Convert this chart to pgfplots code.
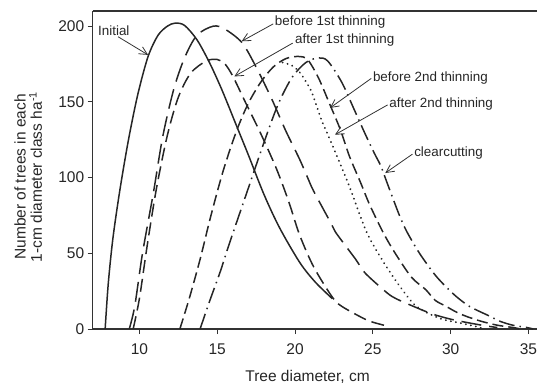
\documentclass[border=0pt]{standalone}
\usepackage{fontspec}
\setmainfont{Liberation Sans}
\usepackage{pgfplots}
\pgfplotsset{compat=1.18}
\usetikzlibrary{arrows.meta}
\begin{document}
\begin{tikzpicture}
\path[use as bounding box] (0,0) rectangle (537pt,384pt);
\begin{axis}[
  at={(92.7pt,55pt)}, anchor=south west,
  width=444.3pt, height=318pt, scale only axis,
  xmin=7, xmax=35.55, ymin=0, ymax=210,
  axis x line=box, axis y line=left,
  axis line style={-, line width=1.2pt, black!80},
  xtick pos=bottom, ytick pos=left,
  xtick={10,15,20,25,30,35}, ytick={0,50,100,150,200},
  tick align=outside, major tick length=5pt,
  tick style={line width=1pt, black!80},
  /pgf/number format/assume math mode=true,
  ticklabel style={font=\fontsize{15.5}{18}\selectfont, text=black!85},
  xticklabel style={yshift=-6pt},
  xlabel={Tree diameter, cm},
  xlabel style={at={(0.4835,0)}, anchor=north, yshift=-38pt, font=\fontsize{15.5}{18}\selectfont, text=black!85},
  ylabel={\begin{tabular}{c}Number of trees in each\\[-2pt]1-cm diameter class ha\textsuperscript{-1}\end{tabular}},
  ylabel style={at={(0,0.478)}, anchor=south, yshift=42pt, font=\fontsize{15.5}{18}\selectfont, text=black!85},
  clip=false,
  every axis plot/.append style={line width=1.5pt, black!85, smooth, tension=0.5, no markers},
]
% Initial
\addplot[solid] coordinates {(7.8,0) (8.0,30) (8.3,60) (8.75,92) (9.3,125) (9.9,155) (10.56,180) (11.2,194) (11.8,200) (12.3,202) (12.9,200.5) (13.7,191) (14.5,176) (15.3,158) (16.25,134) (17,115) (18,89) (19,67) (20.3,44) (21.3,31) (22.4,20)};
% before 1st thinning
\addplot[dash pattern=on 20pt off 8pt] coordinates {(9.35,0) (9.7,15) (10.2,50) (10.9,90) (11.5,127) (12.2,158) (12.9,179) (13.7,194) (14.75,200) (15.5,198) (16.6,189) (17.5,173) (18.5,152) (19.4,131) (20.3,112) (20.85,99) (21.2,91) (22.25,71) (22.6,64) (23.9,46) (24.5,37) (25.9,24) (26.5,20) (27.6,15) (28.8,10) (30,6.5) (31.2,4) (32.3,2) (33,1)};
% after 1st thinning
\addplot[dash pattern=on 13pt off 6pt] coordinates {(9.6,0) (10,20) (10.5,55) (11.1,93) (11.8,128) (12.5,153) (13.3,169) (14.3,177) (15.0,178) (15.5,175) (16.0,167) (16.8,150) (17.8,129) (18.8,106) (19.6,84) (20.3,62) (21.2,41) (22.4,21) (23,15) (24.4,7) (25,4.5) (25.9,2)};
% before 2nd thinning
\addplot[dash pattern=on 11pt off 5pt] coordinates {(12.6,0) (13.2,20) (13.9,46) (14.6,75) (15.4,105) (16.25,131) (17,149) (17.8,163) (18.6,173) (19.4,178.5) (20.2,180) (20.8,178) (21.5,166) (22.25,148) (22.9,132) (23.5,114) (24.2,97) (24.8,82) (25.7,63) (26.5,49) (27.5,34) (28.4,26) (29,19) (29.7,15) (30.4,11) (31.1,8) (32,5) (33,2.5) (34,1) (34.5,0)};
% after 2nd thinning
\addplot[line cap=round, dash pattern=on 0.1pt off 5pt, line width=2pt] coordinates {(19.2,176) (19.8,174) (20.34,169) (21.0,158) (21.4,147) (21.7,138) (22.25,125) (22.7,114) (23.5,94) (24.6,64) (25.7,44) (26.75,28) (27.8,15) (29.3,7) (30.6,4) (31.7,1.5) (32.2,0)};
% clearcutting
\addplot[dash pattern=on 16pt off 5pt on 1.5pt off 5pt] coordinates {(13.9,0) (14.5,18) (15.2,38) (15.8,57) (16.9,90) (18,123) (18.9,148) (19.8,166) (20.7,176) (21.5,179) (22.1,177) (23,163) (23.8,145) (24.5,129) (25.1,116) (25.5,108) (25.9,97) (26.3,86) (26.75,74) (27.2,64) (28,50) (28.9,37) (29.5,30) (30.3,22) (31.2,15) (32.4,9) (33.2,5) (34,2.5) (34.9,1) (35.3,0)};

\tikzset{lab/.style={anchor=west, inner sep=0pt, font=\fontsize{13.4}{15}\selectfont, text=black!85},
         arr/.style={-{Straight Barb[length=8pt,width=8pt]}, line width=0.8pt, black!80}}
\node[lab] at (axis cs:7.34,197) {Initial};
\draw[arr] (axis cs:8.63,193) -- (axis cs:10.56,181);
\node[lab] at (axis cs:18.7,202.6) {before 1st thinning};
\draw[arr] (axis cs:18.6,201.5) -- (axis cs:16.57,190);
\node[lab] at (axis cs:20.0,190.7) {after 1st thinning};
\draw[arr] (axis cs:19.85,188.8) -- (axis cs:16.1,166.8);
\node[lab] at (axis cs:25.0,165.8) {before 2nd thinning};
\draw[arr] (axis cs:24.9,165.5) -- (axis cs:22.25,146);
\node[lab] at (axis cs:26.05,148.8) {after 2nd thinning};
\draw[arr] (axis cs:25.95,148) -- (axis cs:22.57,128.3);
\node[lab] at (axis cs:27.65,116) {clearcutting};
\draw[arr] (axis cs:27.55,115.5) -- (axis cs:25.8,103);
\end{axis}
\end{tikzpicture}
\end{document}
